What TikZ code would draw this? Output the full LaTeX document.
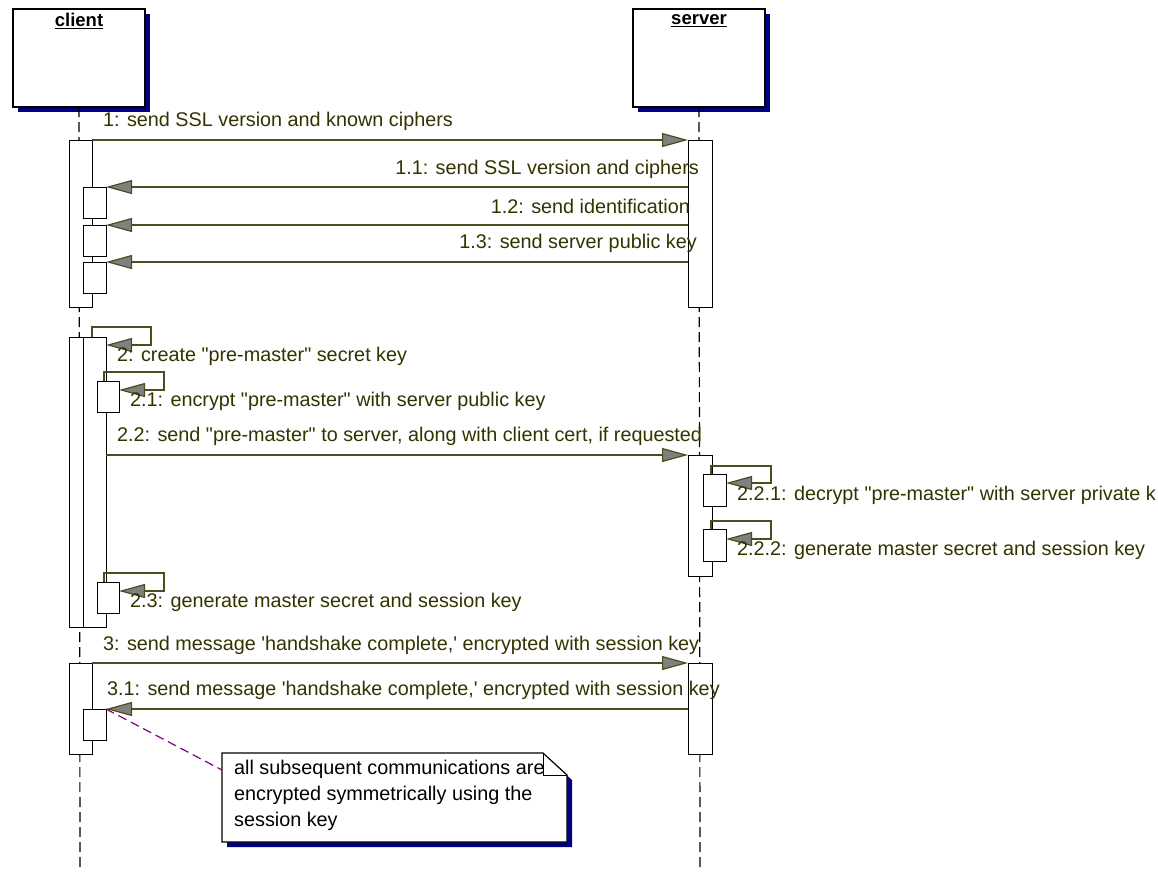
\documentclass[tikz,border=0pt]{standalone}
\usepackage{fontspec}
\setmainfont{Liberation Sans}[Ligatures=TeXOff]
\usetikzlibrary{arrows.meta}
\definecolor{msgline}{RGB}{76,76,30}
\definecolor{msgtext}{RGB}{51,51,0}
\definecolor{shadowc}{RGB}{0,0,128}
\definecolor{tipfill}{RGB}{128,128,128}
\definecolor{notelink}{RGB}{128,0,128}
\newcommand{\actbox}[5]{\node[act, anchor=north west, minimum width=#4pt-#2pt, minimum height=#5pt-#3pt] (#1) at (#2,#3) {};}
\begin{document}
\begin{tikzpicture}[x=1pt,y=-1pt,
  obj/.style={draw=black, fill=white, line width=1.2pt, inner sep=0pt, outer sep=0pt},
  act/.style={draw=black, fill=white, line width=1pt, inner sep=0pt, outer sep=0pt},
  msg/.style={draw=msgline, line width=1.2pt, -{Triangle[length=26pt,width=14pt,fill=tipfill]}},
  lbl/.style={text=msgtext, font=\fontsize{19.8}{22}\selectfont, inner sep=0pt},
  title/.style={font=\fontsize{18.5}{20}\selectfont\bfseries, inner sep=0pt},
  life/.style={draw=black, line width=1.2pt, dash pattern=on 10pt off 5pt},
  notetext/.style={font=\fontsize{19.8}{26}\selectfont, inner sep=0pt, align=left, text=black}]
\path[use as bounding box] (0,0) rectangle (1158,871);
% objects
\fill[shadowc] (18,14) rectangle (150,112);
\fill[shadowc] (638,14) rectangle (770,112);
\node[obj, anchor=north west, minimum width=132pt, minimum height=98pt] (client) at (13,9) {};
\node[obj, anchor=north west, minimum width=132pt, minimum height=98pt] (server) at (633,9) {};
\node[title] (clientlbl) at (79,21) {\underline{client}};
\node[title] (serverlbl) at (699,21) {\underline{server}};
% lifelines
\coordinate (cend) at (80,871);
\coordinate (send) at (700,871);
\draw[life] (client.south) -- (cend);
\draw[life] (server.south) -- (send);
% activations
\actbox{ca1}{69}{140}{92}{307}
\actbox{cb1}{83}{187}{106}{218}
\actbox{cb2}{83}{225}{106}{256}
\actbox{cb3}{83}{262}{106}{293}
\actbox{sa1}{688}{140}{712}{307}
\actbox{ca2}{69}{337}{92}{627}
\actbox{ca2b}{83}{337}{106}{627}
\actbox{cc1}{97}{381}{119}{412}
\actbox{cc2}{97}{582}{119}{613}
\actbox{sa2}{688}{455}{712}{576}
\actbox{sd1}{703}{474}{726}{506}
\actbox{sd2}{703}{529}{726}{561}
\actbox{ca3}{69}{663}{92}{754}
\actbox{ce1}{83}{709}{106}{740}
\actbox{sa3}{688}{663}{712}{754}
% messages
\draw[msg] (ca1.north east) -- (sa1.north west);
\node[lbl, anchor=west] (l1) at (103,121) {1: send SSL version and known ciphers};
\draw[msg] (sa1.west |- cb1.north) -- (cb1.north east);
\node[lbl, anchor=east] (l11) at (699,169) {1.1: send SSL version and ciphers};
\draw[msg] (sa1.west |- cb2.north) -- (cb2.north east);
\node[lbl, anchor=east] (l12) at (690,206) {1.2: send identification};
\draw[msg] (sa1.west |- cb3.north) -- (cb3.north east);
\node[lbl, anchor=east] (l13) at (697,243) {1.3: send server public key};
% 2
\draw[msg] (ca2.north east) -- ++(0,-10) -- ++(59,0) -- ++(0,18) -- ++(-45,0);
\node[lbl, anchor=west] (l2) at (117,356) {2: create "pre-master" secret key};
\draw[msg] ([xshift=7pt]cc1.north west) -- ++(0,-9) -- ++(60,0) -- ++(0,18) -- ++(-45,0);
\node[lbl, anchor=west] (l21) at (130,401) {2.1: encrypt "pre-master" with server public key};
\draw[msg] (ca2b.east |- sa2.north) -- (sa2.north west);
\node[lbl, anchor=west] (l22) at (117,436) {2.2: send "pre-master" to server, along with client cert, if requested};
\draw[msg] ([xshift=8pt]sd1.north west) -- ++(0,-8) -- ++(60,0) -- ++(0,17) -- ++(-45,0);
\node[lbl, anchor=west] (l221) at (737,495) {2.2.1: decrypt "pre-master" with server private k};
\draw[msg] ([xshift=8pt]sd2.north west) -- ++(0,-8) -- ++(60,0) -- ++(0,18) -- ++(-45,0);
\node[lbl, anchor=west] (l222) at (737,550) {2.2.2: generate master secret and session key};
\draw[msg] ([xshift=7pt]cc2.north west) -- ++(0,-9) -- ++(60,0) -- ++(0,18) -- ++(-45,0);
\node[lbl, anchor=west] (l23) at (130,602) {2.3: generate master secret and session key};
% 3
\draw[msg] (ca3.north east) -- (sa3.north west);
\node[lbl, anchor=west] (l3) at (103,645) {3: send message 'handshake complete,' encrypted with session key};
\draw[msg] (sa3.west |- ce1.north) -- (ce1.north east);
\node[lbl, anchor=west] (l31) at (107,690) {3.1: send message 'handshake complete,' encrypted with session key};
% note
\fill[shadowc] (227,758) -- (548,758) -- (572,780) -- (572,847) -- (227,847) -- cycle;
\draw[fill=white, line width=1.2pt] (222,753) -- (543,753) -- (567,775) -- (567,842) -- (222,842) -- cycle;
\draw[line width=1pt] (543,753) -- (543,775) -- (567,775);
\node[notetext, anchor=north west] (note) at (234,760) {all subsequent communications are\\encrypted symmetrically using the\\session key};
\coordinate (noteattach) at (222,770);
\draw[notelink, line width=1.2pt, dash pattern=on 9pt off 5pt] (ce1.north east) -- (noteattach);
\end{tikzpicture}
\end{document}
